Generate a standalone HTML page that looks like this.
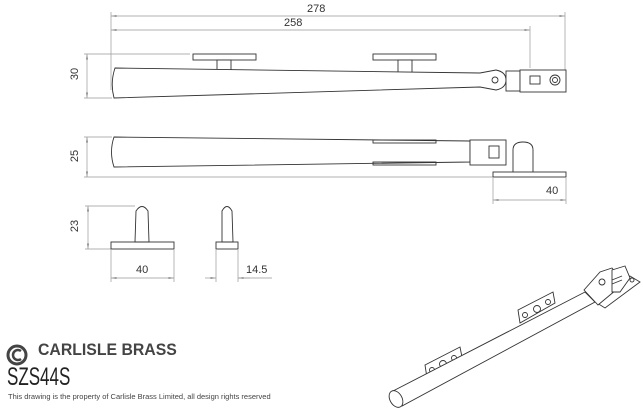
<!DOCTYPE html>
<html><head><style>
body{margin:0;background:#fff;width:643px;height:417px;overflow:hidden;position:relative;font-family:"Liberation Sans",sans-serif}
svg{position:absolute;left:0;top:0}
.t{position:absolute;color:#333;white-space:nowrap}
</style></head><body>
<svg width="643" height="417" viewBox="0 0 643 417">
<defs><marker id="a" markerWidth="8" markerHeight="6" refX="8" refY="3" orient="auto-start-reverse"><path d="M0,1.5 L8,3 L0,4.5z" fill="#888"/></marker></defs>
<g stroke="#999" stroke-width="0.7" fill="none">
<line x1="111" y1="16" x2="565" y2="16" marker-start="url(#a)" marker-end="url(#a)"/>
<line x1="111" y1="30" x2="530" y2="30" marker-start="url(#a)" marker-end="url(#a)"/>
<line x1="111" y1="12" x2="111" y2="90"/><line x1="565" y1="12" x2="565" y2="70"/><line x1="530" y1="26" x2="530" y2="68"/>
<line x1="87" y1="54" x2="87" y2="98" marker-start="url(#a)" marker-end="url(#a)"/>
<line x1="84" y1="54" x2="190" y2="54"/><line x1="84" y1="98" x2="112" y2="98"/>
<line x1="87" y1="137" x2="87" y2="177" marker-start="url(#a)" marker-end="url(#a)"/>
<line x1="84" y1="137" x2="112" y2="137"/><line x1="84" y1="177" x2="493" y2="177"/>
<line x1="493" y1="200" x2="566" y2="200" marker-start="url(#a)" marker-end="url(#a)"/>
<line x1="493" y1="178" x2="493" y2="204"/><line x1="566" y1="178" x2="566" y2="204"/>
<line x1="88" y1="206" x2="88" y2="249" marker-start="url(#a)" marker-end="url(#a)"/>
<line x1="85" y1="206" x2="135" y2="206"/><line x1="85" y1="249" x2="111" y2="249"/>
<line x1="111" y1="278" x2="174" y2="278" marker-start="url(#a)" marker-end="url(#a)"/>
<line x1="111" y1="250" x2="111" y2="282"/><line x1="174" y1="250" x2="174" y2="282"/>
<line x1="205" y1="278" x2="216" y2="278" marker-end="url(#a)"/><line x1="250" y1="278" x2="238" y2="278" marker-end="url(#a)"/><line x1="238" y1="278" x2="272" y2="278"/>
<line x1="216" y1="250" x2="216" y2="282"/><line x1="238" y1="250" x2="238" y2="282"/>
</g>
<g stroke="#333" stroke-width="0.9" fill="#fff">
<rect x="193" y="54" width="63" height="6"/><rect x="373" y="54" width="63" height="6"/>
<rect x="217" y="60" width="14" height="10"/><rect x="398" y="60" width="14" height="13"/>
<path d="M115,68 L480,73 L496,70 Q506,72 506,80 Q506,88 496,90 L480,87 L114,98 Q110,83 115,68Z"/>
<circle cx="495" cy="80" r="3"/>
<rect x="506" y="71" width="14" height="20"/><rect x="520" y="70" width="46" height="22"/>
<rect x="530" y="76" width="10" height="8"/>
<circle cx="555" cy="80" r="5"/><circle cx="555" cy="80" r="2.5"/>
<path d="M114,137 L470,141 L470,162 L114,167 Q109,152 114,137Z"/>
<rect x="373" y="140" width="63" height="3" fill="none"/><rect x="373" y="162" width="63" height="3" fill="none"/>
<rect x="470" y="140" width="36" height="25"/><rect x="489" y="146" width="10" height="12"/>
<path d="M513,172 L513,150 Q513,142 523,142 Q533,142 533,150 L533,172"/>
<rect x="493" y="172" width="73" height="5"/>
<rect x="111" y="242" width="63" height="7"/><path d="M135,242 L136,211 Q142,202 148,211 L149,242Z"/>
<rect x="216" y="242" width="22" height="7"/><path d="M222,242 L222,211 Q227,202 232,211 L233,242Z"/>
<path d="M425,365 L460,347 L462,357 L427,378Z"/>
<circle cx="432" cy="370" r="2.5"/><circle cx="443" cy="364" r="3.5"/><circle cx="454" cy="358" r="2.5"/>
<path d="M518,310 L553,292 L555,303 L520,323Z"/>
<circle cx="525" cy="315" r="2.5"/><circle cx="537" cy="309" r="3.5"/><circle cx="548" cy="302" r="2.5"/>
<path d="M393,391 L585,292 L595,302 L402,406Z"/>
<ellipse cx="396" cy="399" rx="6" ry="9" transform="rotate(-30 396 399)"/>
<path d="M597,303 L630,276 L640,282 L605,308Z"/>
<path d="M584,290 L600,272 L612,268 L618,276 L616,290 L598,305 Z"/>
<circle cx="602" cy="282" r="3"/>
<path d="M612,270 L625,266 L630,278 L620,292 L612,292Z"/>
<circle cx="632" cy="280" r="2"/>
<line x1="612" y1="280" x2="622" y2="276"/><line x1="612" y1="284" x2="622" y2="280"/>
</g>
</svg>
<div class="t" style="left:307px;top:3px;font-size:11px">278</div>
<div class="t" style="left:284px;top:17px;font-size:11px">258</div>
<div class="t" style="left:69px;top:68px;font-size:11px;transform:rotate(-90deg)">30</div>
<div class="t" style="left:69px;top:150px;font-size:11px;transform:rotate(-90deg)">25</div>
<div class="t" style="left:69px;top:220px;font-size:11px;transform:rotate(-90deg)">23</div>
<div class="t" style="left:546px;top:185px;font-size:11px">40</div>
<div class="t" style="left:136px;top:264px;font-size:11px">40</div>
<div class="t" style="left:246px;top:264px;font-size:11px">14.5</div>
<svg width="32" height="32" style="left:6px;top:343px"><circle cx="11" cy="12" r="9" fill="none" stroke="#444" stroke-width="3"/><path d="M15,8 A5,5 0 1 0 15,16" fill="none" stroke="#444" stroke-width="2.5"/></svg>
<div class="t" style="left:38px;top:340px;font-size:17px;font-weight:bold;color:#444;transform:scaleX(0.93);transform-origin:left">CARLISLE BRASS</div>
<div class="t" style="left:7px;top:363px;font-size:25px;color:#222;transform:scaleX(0.68);transform-origin:left">SZS44S</div>
<div class="t" style="left:8px;top:392px;font-size:7.5px;color:#444">This drawing is the property of Carlisle Brass Limited, all design rights reserved</div>
</body></html>
